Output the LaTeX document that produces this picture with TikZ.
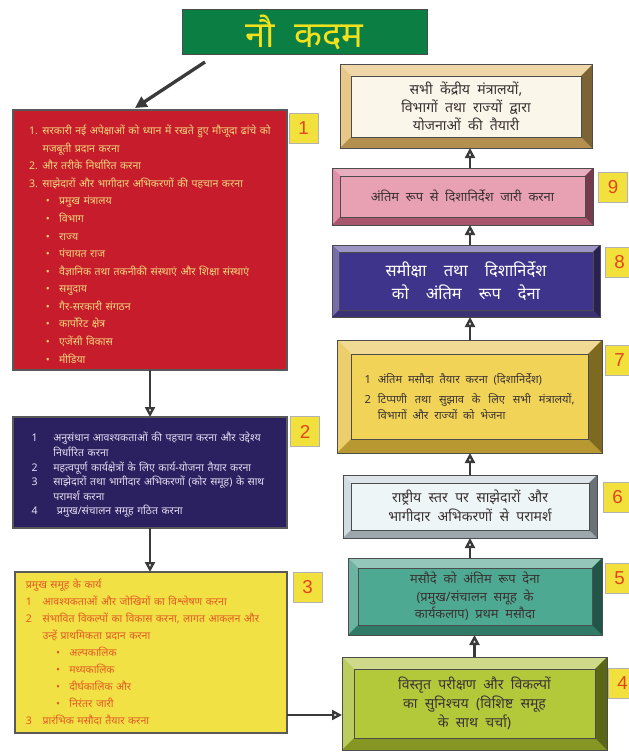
\documentclass[tikz,border=0pt]{standalone}
\usepackage{fontspec}
\setmainfont{Noto Sans}[Script=Devanagari]
\newfontfamily\widefont{Noto Sans}[Script=Devanagari, WordSpace=2]
\newfontfamily\numfont{Liberation Sans}
\usetikzlibrary{calc,arrows.meta,backgrounds}
\definecolor{titlegreen}{HTML}{0B7F43}
\definecolor{titleyellow}{HTML}{F2E21E}
\definecolor{stepred}{HTML}{C71C2C}
\definecolor{stepnavy}{HTML}{2B2160}
\definecolor{stepyellow}{HTML}{F1E144}
\definecolor{redtext}{HTML}{F3D77C}
\definecolor{navytext}{HTML}{E4DCF0}
\definecolor{yellowtext}{HTML}{E25A26}
\definecolor{labelyellow}{HTML}{F2E03C}
\definecolor{labelred}{HTML}{E0461C}
\definecolor{arrowgray}{HTML}{3A3A3A}
\definecolor{darktext}{HTML}{3B3333}
\definecolor{frameplan}{HTML}{E0B462}
\definecolor{faceplan}{HTML}{FBF6EA}
\definecolor{framenine}{HTML}{D56A8A}
\definecolor{facenine}{HTML}{E8A0B3}
\definecolor{frameeight}{HTML}{4A3E94}
\definecolor{faceeight}{HTML}{3F348B}
\definecolor{frameseven}{HTML}{E6BE3C}
\definecolor{faceseven}{HTML}{F1D457}
\definecolor{framesix}{HTML}{C2D0D8}
\definecolor{facesix}{HTML}{EEF5F7}
\definecolor{framefive}{HTML}{3C9A82}
\definecolor{facefive}{HTML}{4DA991}
\definecolor{framefour}{HTML}{A6BC2A}
\definecolor{facefour}{HTML}{B4C93A}
\newcommand{\nitem}[2]{\par\hangindent=#1\hangafter=1\noindent\makebox[#1][l]{#2}}
\newcommand{\bitem}[1]{\par\hangindent=#1\hangafter=1\noindent\hspace*{\dimexpr#1-4mm\relax}\makebox[4mm][l]{•}}
\newcommand{\bevelframe}[4]{%
\fill[#2] (#1.north west) rectangle (#1.south east);
\fill[#2!55!white] (#1.north west) -- (#1.north east) -- ($(#1.north east)+(-#4,-#4)$) -- ($(#1.north west)+(#4,-#4)$) -- cycle;
\fill[#2!75!white] (#1.north west) -- (#1.south west) -- ($(#1.south west)+(#4,#4)$) -- ($(#1.north west)+(#4,-#4)$) -- cycle;
\fill[#2!80!black] (#1.south west) -- (#1.south east) -- ($(#1.south east)+(-#4,#4)$) -- ($(#1.south west)+(#4,#4)$) -- cycle;
\fill[#2!55!black] (#1.south east) -- (#1.north east) -- ($(#1.north east)+(-#4,-#4)$) -- ($(#1.south east)+(-#4,#4)$) -- cycle;
\fill[#3] ($(#1.north west)+(#4,-#4)$) rectangle ($(#1.south east)+(-#4,#4)$);
\draw[gray!60!black, line width=0.2mm] ($(#1.north west)+(#4,-#4)$) rectangle ($(#1.south east)+(-#4,#4)$);
\draw[gray!60!black, line width=0.3mm] (#1.north west) rectangle (#1.south east);
}
\tikzset{
  titlebox/.style={fill=titlegreen, draw=gray!60!black, line width=0.3mm, text=titleyellow,
    minimum width=73.5mm, minimum height=13.5mm, inner sep=0, outer sep=0,
    font=\widefont\fontsize{31}{33}\selectfont\bfseries},
  stepbox/.style={draw=gray!70!black, line width=0.4mm, minimum width=82.2mm, inner sep=0,
    outer sep=0, align=left, font=\fontsize{9}{13.5}\selectfont},
  framebox/.style={inner sep=0, outer sep=0, align=center, text=darktext},
  numlabel/.style={fill=labelyellow, draw=gray!60, line width=0.2mm, text=labelred,
    minimum width=8.7mm, minimum height=9mm, inner sep=0, font=\numfont\fontsize{16}{16}\selectfont},
  flow/.style={draw=arrowgray, line width=0.7mm, -{Triangle[open,length=3mm,width=3mm]}},
  pointer/.style={draw=arrowgray, line width=1mm, -{Triangle[length=3.5mm,width=3.5mm]}}
}

\begin{document}
\begin{tikzpicture}[x=0.3mm,y=-0.3mm]
\useasboundingbox (0,0) rectangle (629,753);
\node[titlebox] (title) at (304.5, 32.5) {नौ कदम};
%left column
\node[stepbox, fill=stepred, text=redtext, minimum height=78mm, text width=72.5mm,
  font=\fontsize{9}{15}\selectfont] (s1) at (150, 240) {%
\nitem{4mm}{1.}सरकारी नई अपेक्षाओं को ध्यान में रखते हुए मौजूदा ढांचे को मजबूती प्रदान करना
\nitem{4mm}{2.}और तरीके निर्धारित करना
\nitem{4mm}{3.}साझेदारों और भागीदार अभिकरणों की पहचान करना
\bitem{9mm}प्रमुख मंत्रालय
\bitem{9mm}विभाग
\bitem{9mm}राज्य
\bitem{9mm}पंचायत राज
\bitem{9mm}वैज्ञानिक तथा तकनीकी संस्थाएं और शिक्षा संस्थाएं
\bitem{9mm}समुदाय
\bitem{9mm}गैर-सरकारी संगठन
\bitem{9mm}कार्पोरेट क्षेत्र
\bitem{9mm}एजेंसी विकास
\bitem{9mm}मीडिया};
\node[stepbox, fill=stepnavy, text=navytext, minimum height=33.3mm, text width=71mm,
  font=\fontsize{9}{12.5}\selectfont] (s2) at (150, 472.5) {%
\nitem{6.5mm}{1}अनुसंधान आवश्यकताओं की पहचान करना और उद्देश्य निर्धारित करना
\nitem{6.5mm}{2}महत्वपूर्ण कार्यक्षेत्रों के लिए कार्य-योजना तैयार करना
\nitem{6.5mm}{3}साझेदारों तथा भागीदार अभिकरणों (कोर समूह) के साथ परामर्श करना
\nitem{6.5mm}{4}\ प्रमुख/संचालन समूह गठित करना};
\node[stepbox, fill=stepyellow, text=yellowtext, minimum width=81.6mm, minimum height=48.3mm,
  text width=75mm, font=\fontsize{9}{14.5}\selectfont] (s3) at (151, 652.5) {%
\noindent प्रमुख समूह के कार्य
\nitem{5mm}{1}आवश्यकताओं और जोखिमों का विश्लेषण करना
\nitem{5mm}{2}संभावित विकल्पों का विकास करना, लागत आकलन और उन्हें प्राथमिकता प्रदान करना
\bitem{13mm}अल्पकालिक
\bitem{13mm}मध्यकालिक
\bitem{13mm}दीर्घकालिक और
\bitem{13mm}निरंतर जारी
\nitem{5mm}{3}प्रारंभिक मसौदा तैयार करना};
\node[numlabel] (n1) at (303.5, 128) {1};
\node[numlabel] (n2) at (305, 431.5) {2};
\node[numlabel] (n3) at (307.5, 587) {3};
%right column
\node[framebox, minimum width=75.6mm, minimum height=24.9mm, font=\widefont\fontsize{12}{15.5}\selectfont] (plan) at (466, 106.5)
  {सभी केंद्रीय मंत्रालयों,\\ विभागों तथा राज्यों द्वारा\\ योजनाओं की तैयारी};
\node[framebox, minimum width=78.3mm, minimum height=17.1mm, font=\widefont\fontsize{11}{13}\selectfont] (s9) at (462.5, 196.5)
  {अंतिम रूप से दिशानिर्देश जारी करना};
\node[framebox, minimum width=80.4mm, minimum height=21.6mm, text=white, font=\widefont\fontsize{14}{20}\selectfont\bfseries] (s8) at (466, 281)
  {समीक्षा तथा दिशानिर्देश\\ को अंतिम रूप देना};
\node[framebox, minimum width=79.5mm, minimum height=33.9mm, font=\widefont\fontsize{9.5}{14}\selectfont] (s7) at (469.5, 396.5)
  {\begin{minipage}{63mm}\nitem{4mm}{1}अंतिम मसौदा तैयार करना (दिशानिर्देश)\par\smallskip
  \nitem{4mm}{2}टिप्पणी तथा सुझाव के लिए सभी मंत्रालयों, विभागों और राज्यों को भेजना\end{minipage}};
\node[framebox, minimum width=76.2mm, minimum height=18.9mm, font=\widefont\fontsize{12}{16}\selectfont] (s6) at (470, 506.5)
  {राष्ट्रीय स्तर पर साझेदारों और\\ भागीदार अभिकरणों से परामर्श};
\node[framebox, minimum width=76.2mm, minimum height=23.1mm, font=\widefont\fontsize{11}{15}\selectfont] (s5) at (475, 596.5)
  {मसौदे को अंतिम रूप देना\\ (प्रमुख/संचालन समूह के\\ कार्यकलाप) प्रथम मसौदा};
\node[framebox, minimum width=79.5mm, minimum height=27.9mm, font=\widefont\fontsize{12}{16}\selectfont] (s4) at (474.5, 703.5)
  {विस्तृत परीक्षण और विकल्पों\\ का सुनिश्चय (विशिष्ट समूह\\ के साथ चर्चा)};
\node[numlabel] (n9) at (613, 187.5) {9};
\node[numlabel] (n8) at (619.5, 262) {8};
\node[numlabel] (n7) at (619.5, 360) {7};
\node[numlabel] (n6) at (617.5, 497) {6};
\node[numlabel] (n5) at (619.5, 578) {5};
\node[numlabel] (n4) at (622.5, 683) {4};
%frames
\begin{scope}[on background layer]
\fill[white] (0,0) rectangle (629,753);
\bevelframe{plan}{frameplan}{faceplan}{3.3mm}
\bevelframe{s9}{framenine}{facenine}{2.4mm}
\bevelframe{s8}{frameeight}{faceeight}{2.1mm}
\bevelframe{s7}{frameseven}{faceseven}{4.2mm}
\bevelframe{s6}{framesix}{facesix}{2.4mm}
\bevelframe{s5}{framefive}{facefive}{3mm}
\bevelframe{s4}{framefour}{facefour}{3.6mm}
\end{scope}
%arrows
\coordinate (spine) at (470, 0);
\draw[pointer] ($(title.south west)+(6.9mm,-2.1mm)$) -- ($(s1.north west)+(36.6mm,0.6mm)$);
\draw[flow] (s1.south) -- (s2.north);
\draw[flow] (s2.south) -- (s2.south |- s3.north);
\draw[flow] ($(s3.south east)+(0,5.4mm)$) coordinate (a3) -- (a3 -| s4.west);
\draw[flow] (s4.north) -- (s4.north |- s5.south);
\draw[flow] (spine |- s5.north) -- (spine |- s6.south);
\draw[flow] (spine |- s6.north) -- (spine |- s7.south);
\draw[flow] (spine |- s7.north) -- (spine |- s8.south);
\draw[flow] (spine |- s8.north) -- (spine |- s9.south);
\draw[flow] (spine |- s9.north) -- (spine |- plan.south);
\end{tikzpicture}
\end{document}
